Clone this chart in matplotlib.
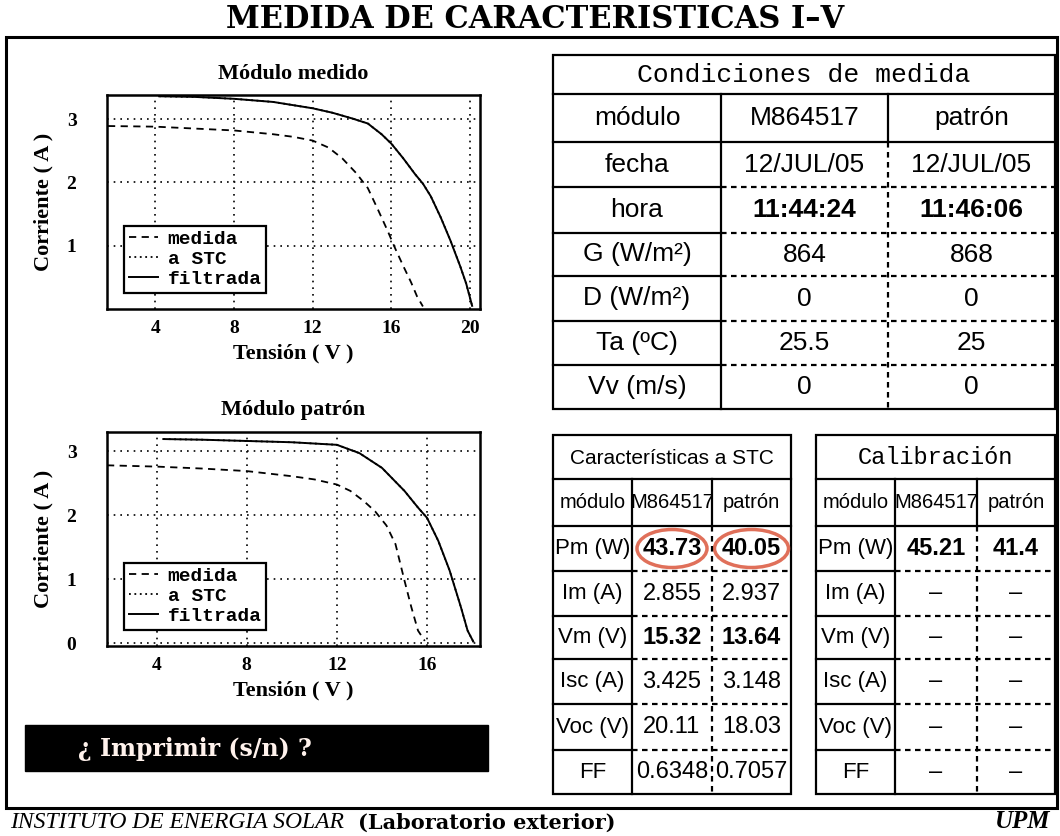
import matplotlib
matplotlib.use("Agg")
import matplotlib.pyplot as plt
from matplotlib import font_manager
from matplotlib.patches import Rectangle, Ellipse

W, H = 1060, 836

# I-V curves: (voltage V, current A)
medido_med_v = [1.6, 4, 6, 8, 10, 11, 12, 12.8, 13.5, 14.2, 14.8, 15.3, 15.8, 16.2, 16.6, 17.0, 17.3, 17.6]
medido_med_i = [2.89, 2.88, 2.85, 2.82, 2.76, 2.72, 2.66, 2.55, 2.38, 2.15, 1.91, 1.58, 1.24, 0.95, 0.68, 0.42, 0.20, 0.04]
medido_stc_v = [4.2, 6, 8, 10, 12, 13, 14, 14.8, 15.5, 16.0, 16.6, 17.2, 17.6, 18.0, 18.5, 19.0, 19.5, 19.8, 20.1]
medido_stc_i = [3.36, 3.35, 3.32, 3.27, 3.17, 3.10, 3.01, 2.93, 2.76, 2.61, 2.38, 2.13, 1.98, 1.78, 1.45, 1.08, 0.67, 0.40, 0.05]

patron_med_v = [1.8, 4, 6, 8, 10, 11, 12, 12.6, 13.2, 13.7, 14.2, 14.6, 15.0, 15.3, 15.6, 15.9]
patron_med_i = [2.78, 2.76, 2.73, 2.69, 2.61, 2.56, 2.48, 2.38, 2.22, 2.06, 1.84, 1.55, 0.98, 0.57, 0.20, 0.04]
patron_stc_v = [4.3, 6, 8, 10, 12, 13, 14, 15, 15.6, 16.0, 16.5, 17.0, 17.5, 17.8, 18.05]
patron_stc_i = [3.19, 3.18, 3.16, 3.14, 3.10, 2.97, 2.74, 2.38, 2.12, 1.96, 1.60, 1.14, 0.57, 0.20, 0.03]

legend_labels = ["medida", "a STC", "filtrada"]

# tables
cond_title = "Condiciones de medida"
cond_labels = ["módulo", "fecha", "hora", "G (W/m²)", "D (W/m²)", "Ta (ºC)", "Vv (m/s)"]
cond_modulo = ["M864517", "12/JUL/05", "11:44:24", "864", "0", "25.5", "0"]
cond_patron = ["patrón", "12/JUL/05", "11:46:06", "868", "0", "25", "0"]

stc_title = "Características a STC"
cal_title = "Calibración"
char_labels = ["módulo", "Pm (W)", "Im (A)", "Vm (V)", "Isc (A)", "Voc (V)", "FF"]
stc_modulo = ["M864517", "43.73", "2.855", "15.32", "3.425", "20.11", "0.6348"]
stc_patron = ["patrón", "40.05", "2.937", "13.64", "3.148", "18.03", "0.7057"]
cal_modulo = ["M864517", "45.21", "–", "–", "–", "–", "–"]
cal_patron = ["patrón", "41.4", "–", "–", "–", "–", "–"]


def pick(*names):
    for n in names:
        try:
            font_manager.findfont(font_manager.FontProperties(family=n), fallback_to_default=False)
            return n
        except ValueError:
            pass
    return "DejaVu Sans"


narrow = pick("Liberation Sans Narrow", "Liberation Sans")
mono = pick("Liberation Mono", "DejaVu Sans Mono")
serif = pick("Liberation Serif", "DejaVu Serif")

plt.rcParams['font.family'] = [serif]
plt.rcParams['font.weight'] = 'bold'


def px(x0, y0, x1, y1):
    return [x0 / W, 1 - y1 / H, (x1 - x0) / W, (y1 - y0) / H]


fig = plt.figure(figsize=(W / 100, H / 100), dpi=100)
page = fig.add_axes([0, 0, 1, 1])
page.set_xlim(0, W)
page.set_ylim(H, 0)
page.axis('off')

page.text(535, 20, "MEDIDA DE CARACTERISTICAS I–V", ha='center', va='center',
          family='DejaVu Serif', weight='bold', size=22)
page.add_patch(Rectangle((6, 37), 1051, 771, fill=False, lw=2.2, ec='k'))


def iv_plot(box, title, title_y, xlab_y, med_v, med_i, stc_v, stc_i, xlim, ylim, yticks):
    ax = fig.add_axes(px(*box))
    ax.plot(med_v, med_i, color='k', lw=1.3, ls=(0, (4, 3)), label=legend_labels[0])
    ax.plot(stc_v, stc_i, color='k', lw=1.3, ls=(0, (1, 2)), label=legend_labels[1])
    ax.plot(stc_v, stc_i, color='k', lw=1.4, ls='-', label=legend_labels[2])
    ax.set_xlim(*xlim)
    ax.set_ylim(*ylim)
    ax.set_xticks([t for t in [4, 8, 12, 16, 20] if t < xlim[1]])
    ax.set_yticks(yticks)
    ax.grid(True, color='k', lw=1.2, ls=(0, (1, 3)))
    ax.tick_params(length=0, labelsize=14, pad=8)
    ax.tick_params(axis='y', pad=22)
    for s in ax.spines.values():
        s.set_linewidth(1.8)
    leg = ax.legend(loc='lower left', bbox_to_anchor=(0.045, 0.075), fancybox=False,
                    edgecolor='k', framealpha=1, borderpad=0.25, labelspacing=0.12,
                    handlelength=1.5, handletextpad=0.5, borderaxespad=0,
                    prop=dict(family=mono, weight='bold', size=14))
    leg.get_frame().set_linewidth(1.6)
    xc = (box[0] + box[2]) / 2
    page.text(xc, title_y, title, ha='center', va='center', size=16)
    page.text(xc, xlab_y, "Tensión ( V )", ha='center', va='center', size=16)
    page.text(43, (box[1] + box[3]) / 2, "Corriente ( A )", ha='center', va='center',
              rotation=90, size=16)
    return ax


iv_plot((107, 95, 480, 309), "Módulo medido", 74, 353,
        medido_med_v, medido_med_i, medido_stc_v, medido_stc_i,
        (1.55, 20.5), (0, 3.38), [1, 2, 3])
iv_plot((107, 432, 480, 646), "Módulo patrón", 410, 690,
        patron_med_v, patron_med_i, patron_stc_v, patron_stc_i,
        (1.8, 18.35), (-0.04, 3.3), [0, 1, 2, 3])

# print prompt
page.add_patch(Rectangle((25, 725), 463, 46, color='k'))
page.text(78, 749, "¿ Imprimir (s/n) ?", ha='left', va='center', color='#fff2ec',
          family='DejaVu Serif', weight='bold', size=17)

# footer
page.text(10, 823, "INSTITUTO DE ENERGIA SOLAR", ha='left', va='center',
          style='italic', weight='normal', size=17)
page.text(358, 823, "(Laboratorio exterior)", ha='left', va='center',
          family='DejaVu Serif', weight='bold', size=15)
page.text(1050, 821, "UPM", ha='right', va='center', style='italic', size=18)

DASH = (0, (2.5, 2))


def table(cols, rows, title, title_font, title_size, labels, c1, c2, size, head_size,
          label_size, bold_rows):
    lw = 1.6
    x0, x3 = cols[0], cols[-1]
    page.add_patch(Rectangle((x0, rows[0]), x3 - x0, rows[-1] - rows[0], fill=False, lw=lw, ec='k'))
    page.plot([x0, x3], [rows[1]] * 2, 'k-', lw=lw)
    page.plot([x0, x3], [rows[2]] * 2, 'k-', lw=lw)
    for r in rows[3:-1]:
        page.plot([cols[0], cols[1]], [r, r], 'k-', lw=lw)
        page.plot([cols[1], cols[3]], [r, r], color='k', ls=DASH, lw=lw)
    page.plot([cols[1]] * 2, [rows[1], rows[-1]], 'k-', lw=lw)
    page.plot([cols[2]] * 2, [rows[1], rows[2]], 'k-', lw=lw)
    page.plot([cols[2]] * 2, [rows[2], rows[-1]], color='k', ls=DASH, lw=lw)
    page.text((x0 + x3) / 2, (rows[0] + rows[1]) / 2 + 1, title, ha='center', va='center',
              family=title_font, weight='normal', size=title_size)
    for i, row in enumerate(zip(labels, c1, c2)):
        yc = (rows[i + 1] + rows[i + 2]) / 2
        for j, t in enumerate(row):
            xc = (cols[j] + cols[j + 1]) / 2
            wt = 'bold' if (j > 0 and i in bold_rows) else 'normal'
            sz = head_size if i == 0 else (label_size if j == 0 else size)
            page.text(xc, yc, t, ha='center', va='center', family=narrow, weight=wt, size=sz)


table([553, 721, 888, 1055], [55, 94, 142, 187, 233, 276, 321, 365, 409],
      cond_title, mono, 19, cond_labels, cond_modulo, cond_patron, 19, 19, 19, [2])
stc_rows = [435, 479, 526, 571, 616, 659, 704, 750, 794]
stc_cols = [553, 632, 712, 791]
cal_cols = [816, 895, 977, 1055]
table(stc_cols, stc_rows, stc_title, narrow, 15, char_labels, stc_modulo, stc_patron,
      17, 14.5, 16, [1, 3])
table(cal_cols, stc_rows, cal_title, mono, 17, char_labels, cal_modulo, cal_patron,
      17, 14.5, 16, [1])

# highlight of the maximum power at STC
pm_y = (stc_rows[2] + stc_rows[3]) / 2
for k, wd in zip([0, 1], [70, 74]):
    xc = (stc_cols[k + 1] + stc_cols[k + 2]) / 2
    page.add_patch(Ellipse((xc, pm_y), wd, 38, fill=False, ec='#e0705a', lw=2.5))

fig.savefig("out.png", dpi=100, facecolor='white')
